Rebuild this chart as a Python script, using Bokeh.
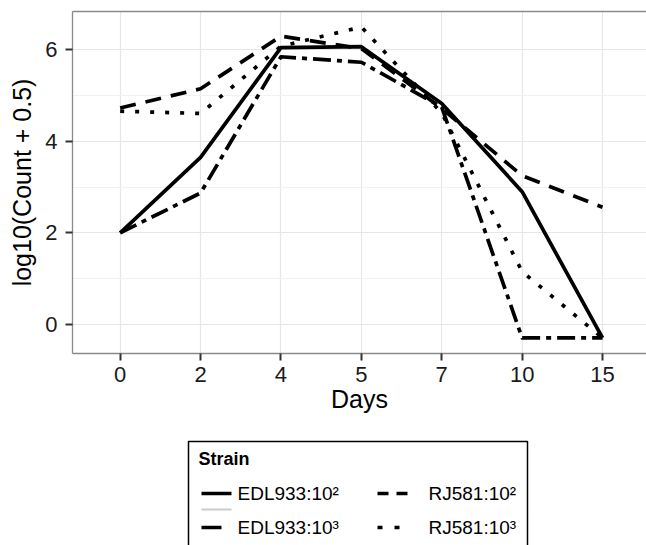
from bokeh.plotting import figure
from bokeh.models import Range1d, FixedTicker, LinearAxis
from bokeh.layouts import column
from bokeh.core.properties import value
from bokeh.embed import file_html
from bokeh.resources import INLINE

# ---- data ----
days = ["0", "2", "4", "5", "7", "10", "15"]
edl933_1e2 = [2.0, 3.65, 6.05, 6.07, 4.83, 2.9, -0.3]
edl933_1e3 = [2.0, 2.87, 5.85, 5.73, 4.75, -0.3, -0.3]
rj581_1e2 = [4.73, 5.15, 6.3, 6.03, 4.72, 3.25, 2.56]
rj581_1e3 = [4.66, 4.61, 6.08, 6.5, 4.62, 1.15, -0.3]

series_names = ["EDL933:10²", "EDL933:10³", "RJ581:10²", "RJ581:10³"]
series_vals = [edl933_1e2, edl933_1e3, rj581_1e2, rj581_1e3]
series_dash = ["solid", "18 6 5 6", "16 10", "4 11"]
key_dash = ["solid", "20 20", "11 8", "5 12"]

FONT = "Liberation Sans"
xs = list(range(1, len(days) + 1))

p = figure(width=646, height=420, output_backend="svg", toolbar_location=None,
           x_range=Range1d(0.407, 7.547), y_range=Range1d(-0.64, 6.84),
           min_border_left=72, min_border_right=0, min_border_top=11,
           min_border_bottom=67)
p.outline_line_color = None
p.background_fill_color = "white"

for vals, dash in zip(series_vals, series_dash):
    p.line(xs, vals, line_color="black", line_width=3.7, line_dash=dash,
           line_cap="butt", line_join="round")

# axes
p.xaxis.ticker = FixedTicker(ticks=xs)
p.xaxis.major_label_overrides = {x: d for x, d in zip(xs, days)}
p.yaxis.ticker = FixedTicker(ticks=[0, 2, 4, 6], minor_ticks=[1, 3, 5])
for ax in p.axis:
    ax.axis_line_color = "#8a8a8a"
    ax.axis_line_width = 1.3
    ax.major_tick_line_color = "#333333"
    ax.major_tick_line_width = 2
    ax.major_tick_out = 7
    ax.major_tick_in = 0
    ax.minor_tick_out = 0
    ax.minor_tick_in = 0
    ax.major_label_text_font = FONT
    ax.major_label_text_font_size = "22px"
    ax.major_label_text_color = "#1a1a1a"
    ax.axis_label_text_font = FONT
    ax.axis_label_text_font_size = "25px"
    ax.axis_label_text_font_style = "normal"
    ax.axis_label_text_color = "black"
p.xaxis.axis_label = "Days"
p.yaxis.axis_label = "log10(Count + 0.5)"
p.xaxis.major_label_standoff = 6
p.xaxis.axis_label_standoff = 0
p.yaxis.major_label_standoff = 8
p.yaxis.axis_label_standoff = 6

top_axis = LinearAxis(axis_line_color="#8a8a8a", axis_line_width=1.3,
                      major_tick_line_color=None, minor_tick_line_color=None,
                      major_label_text_font_size="0px")
top_axis.ticker = FixedTicker(ticks=[])
p.add_layout(top_axis, "above")

p.xgrid.grid_line_color = "#e6e6e6"
p.xgrid.grid_line_width = 1.2
p.ygrid.grid_line_color = "#e6e6e6"
p.ygrid.grid_line_width = 1.2
p.ygrid.minor_grid_line_color = "#f2f2f2"
p.ygrid.minor_grid_line_width = 1.2

# ---- legend panel (x in page pixels, y = pixels up from page bottom) ----
lg = figure(width=646, height=125, output_backend="svg", toolbar_location=None,
            x_range=Range1d(72, 646), y_range=Range1d(0, 125),
            min_border_left=72, min_border_right=0, min_border_top=0,
            min_border_bottom=0)
lg.outline_line_color = None
lg.xaxis.visible = False
lg.yaxis.visible = False
lg.grid.visible = False

lg.quad(left=[188], right=[527], top=[104], bottom=[-20], fill_color=None,
        line_color="black", line_width=1.5)
lg.text(x=[198], y=[87], text=["Strain"], text_font=value(FONT),
        text_font_size="18px", text_font_style="bold", text_baseline="middle")

key_x0 = [201, 201, 377, 377]
key_y = [52, 18, 52, 18]
lab_x = [237, 237, 428, 428]
for i in range(4):
    lg.line([key_x0[i], key_x0[i] + 30], [key_y[i], key_y[i]], line_color="black",
            line_width=3.6, line_dash=key_dash[i], line_cap="butt")
    lg.text(x=[lab_x[i]], y=[key_y[i]], text=[series_names[i]],
            text_font=value(FONT), text_font_size="19px", text_baseline="middle")
lg.line([201, 231], [36, 36], line_color="#cccccc", line_width=2)

layout = column(p, lg, spacing=0)
open("out.html", "w").write(file_html(layout, INLINE))
